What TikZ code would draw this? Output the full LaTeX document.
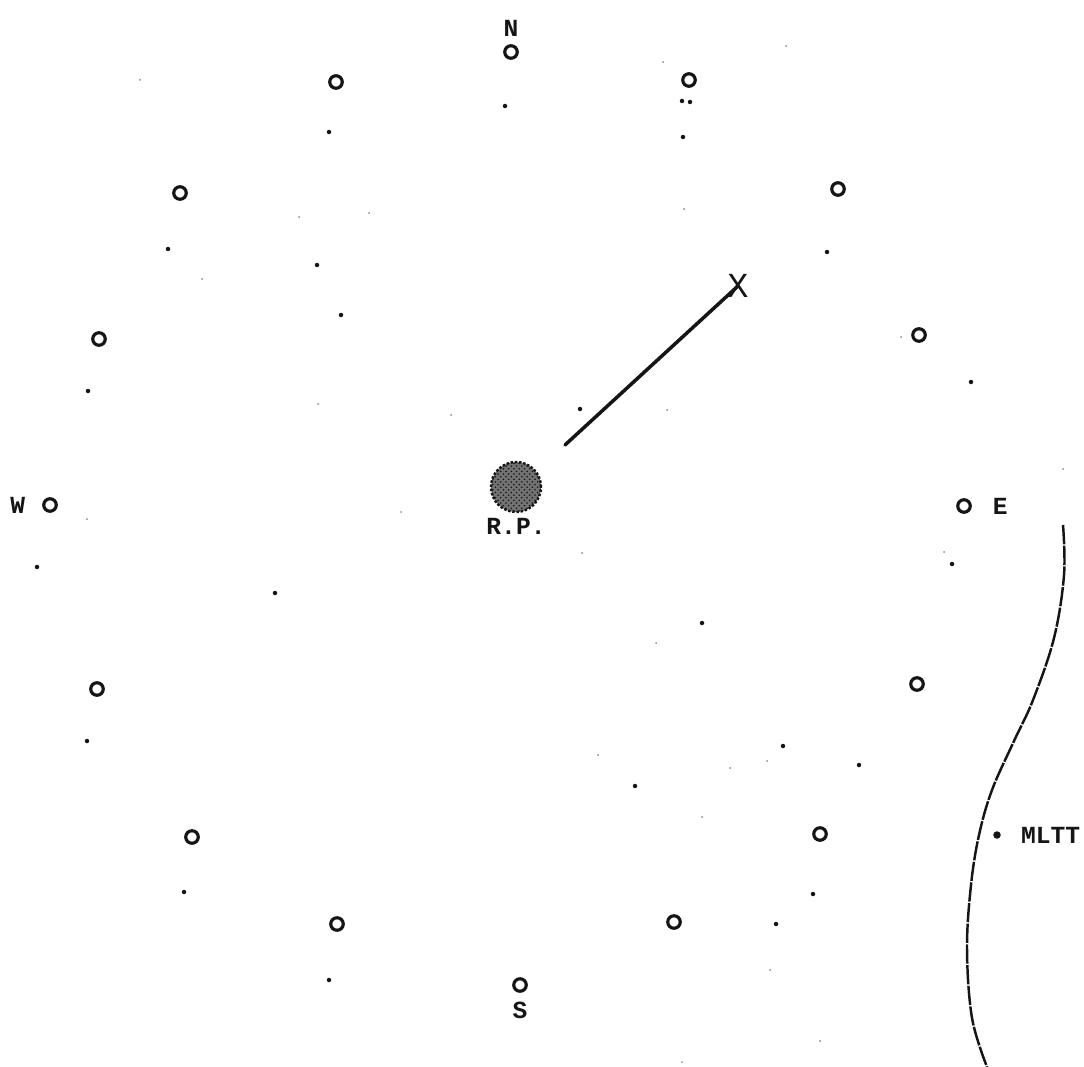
\documentclass[tikz,border=0pt]{standalone}
\usepackage{fontspec}
\setmonofont{Liberation Mono}
\usepackage{tikz}
\usetikzlibrary{patterns, positioning}
\definecolor{inkBlack}{HTML}{151515}
\definecolor{inkGray}{HTML}{8A8A8A}

\begin{document}
\begin{tikzpicture}[x=0.02cm, y=-0.02cm,
  mk/.style={circle, draw=inkBlack, line width=1.8pt, minimum size=0.25cm, inner sep=0pt},
  lbl/.style={font=\ttfamily\bfseries\fontsize{14}{14}\selectfont, text=inkBlack, inner sep=1pt},
  dotbig/.style={circle, fill=inkBlack, minimum size=0.09cm, inner sep=0pt},
  dotsm/.style={circle, fill=inkGray, minimum size=0.04cm, inner sep=0pt},
  trk/.style={line width=2pt, inkBlack, line cap=round},
  coast/.style={line width=1.4pt, inkBlack, dash pattern=on 11pt off 0.8pt}
]
  \useasboundingbox (0,0) rectangle (1084,1067);

  % ring of stations, N first and then row by row
  \foreach \px/\py [count=\i] in {511/52, 336/82, 689/80, 180/193, 838/189, 99/339, 919/335,
      50/505, 964/506, 97/689, 917/684, 192/837, 820/834, 337/924, 674/922, 520/985}
    \node[mk] (m\i) at (\px,\py) {};

  \node[lbl, above=0.12cm of m1] (lblN) {N};
  \node[lbl, left=0.3cm of m8] (lblW) {W};
  \node[lbl, right=0.38cm of m9] (lblE) {E};
  \node[lbl, below=0.15cm of m16] (lblS) {S};

  % scattered points
  \foreach \px/\py in {505/106, 329/132, 168/249, 317/265, 341/315, 88/391, 683/137, 827/252,
      580/409, 971/382, 37/567, 275/593, 87/741, 184/892, 329/980, 952/564, 702/623,
      783/746, 859/765, 635/786, 813/894, 776/924, 682/101, 690/102}
    \node[dotbig] at (\px,\py) {};
  \foreach \px/\py in {299/217, 663/62, 786/46, 684/209, 901/337, 667/410, 1063/469, 401/512,
      582/553, 944/552, 656/643, 767/761, 730/768, 598/755, 702/817, 770/970, 820/1041,
      682/1062, 369/213, 318/404, 451/415, 202/279, 140/80, 87/519}
    \node[dotsm] at (\px,\py) {};

  \node[circle, minimum size=1cm, inner sep=0pt, fill=inkBlack!60,
        postaction={pattern=crosshatch dots, pattern color=inkBlack},
        draw=inkBlack, densely dotted, line width=1.4pt] (rp) at (516,487) {};
  \node[lbl, below=0.06cm of rp] (rpLbl) {R.P.};

  \coordinate (trkStart) at (565,445);
  \node[lbl, font=\ttfamily\fontsize{20}{20}\selectfont] (xMark) at (738,286) {X};
  \draw[trk] (trkStart) -- (xMark.center);

  \node[dotbig, minimum size=0.15cm] (mlttDot) at (997,835) {};
  \node[lbl, right=0.36cm of mlttDot] (mltt) {MLTT};

  \draw[coast] plot[smooth, tension=0.6] coordinates {(1063,525) (1064,575) (1054,638)
      (1033,700) (1014,741) (992,790) (979,835) (971,885) (967,949) (972,1018) (987,1067)};
\end{tikzpicture}
\end{document}
